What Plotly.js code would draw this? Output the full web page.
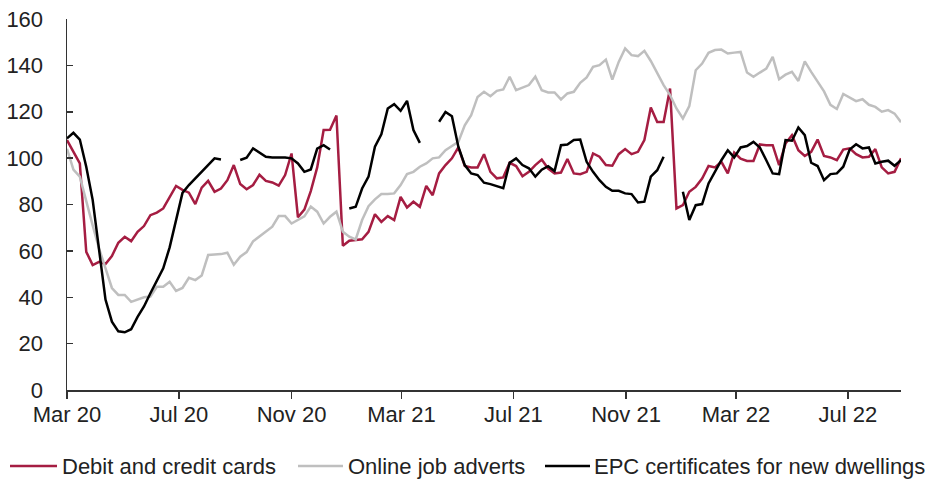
<!DOCTYPE html>
<html>
<head>
<meta charset="utf-8">
<script src="https://cdn.plot.ly/plotly-3.0.1.min.js"></script>
<style>
html,body{margin:0;padding:0;background:#fff;}
#chart{width:925px;height:482px;}
</style>
</head>
<body>
<div id="chart"></div>
<script>
// Weekly observations, first week starting 1 March 2020
const startDate = '2020-03-01';
const seriesNames = ['Debit and credit cards', 'Online job adverts', 'EPC certificates for new dwellings'];
const seriesColors = ['#a51d42', '#bfbfbf', '#000000'];

const cards = [107.8,102.7,97.7,59.6,53.9,55.3,54.3,57.8,63.5,66.1,64.2,68.2,70.7,75.4,76.5,78.3,83.4,88.0,86.3,85.1,
80.2,87.3,90.2,85.5,86.9,90.5,97.0,88.8,86.6,88.4,92.8,90.2,89.5,88.1,92.7,102.0,74.5,77.8,85.8,96.0,
112.1,112.2,118.4,62.2,64.4,64.7,65.0,68.2,75.8,72.5,75.0,73.3,83.3,78.7,81.2,79.0,88.0,84.0,93.4,97.0,
99.9,104.6,96.6,96.0,96.0,101.7,94.1,91.3,91.7,98.0,96.6,92.2,94.1,97.0,99.4,95.5,93.4,93.8,99.6,93.4,
93.1,94.1,102.0,100.6,97.0,96.7,101.7,103.9,101.7,102.7,107.8,121.8,115.6,115.6,130.0,78.3,79.7,85.5,87.6,91.2,
96.6,96.0,98.4,93.4,102.4,99.8,98.8,98.8,105.9,105.6,105.6,97.0,106.3,109.9,103.4,100.9,102.7,108.0,100.9,100.3,
99.1,103.7,104.2,101.7,100.3,100.6,103.9,96.0,93.4,94.1,99.9];

const jobAdverts = [104,95,92,81,71,61,53,44,41,41,38,39,40,40.3,44.5,44.5,46.7,42.7,44,48.4,
47.4,49.4,58.2,58.4,58.6,59.2,54,57.5,59.5,64.1,66.2,68,70.4,75,75,71.8,73.4,74.9,79.1,76.9,
71.8,74.7,76.9,68.2,66.1,64.9,73.3,79.3,82.2,84.5,84.5,84.8,88.4,93.1,94.1,96.3,97.7,99.9,100.3,103.4,
105.2,107.0,114.2,118.5,126.4,128.6,126.7,129.0,129.6,135.1,129.3,130.3,131.5,135.1,129.3,128.3,128.3,125.3,127.9,128.6,
132.5,134.8,139.4,140.1,142.5,133.9,141.5,147.3,144.4,144.0,146.3,141.9,136.9,131.5,127.2,121.4,117.1,122.4,137.9,140.8,
145.4,146.6,146.8,145.1,145.5,145.8,136.9,135.1,136.9,138.6,143.7,134,136,137.2,133.3,141.7,137.2,132.9,128.8,123,
121.2,127.7,126.2,124.6,125.4,123,122.1,120,120.7,119.2,115.5];

const epcNewDwellings = [108.5,110.9,108,96.3,82,60,39,29.5,25.3,24.9,26.2,31.5,36,41.7,46.9,52.5,61.5,73,85,88.4,
91.2,94.4,97.0,99.9,99.4,null,null,99.2,100.2,104.2,102.5,100.6,100.3,100.3,100.3,99.9,97.7,94.1,95.1,104.1,
105.6,103.7,null,null,78.3,79.0,86.9,92.0,104.9,110.3,121.4,123.3,120.4,124.7,112.1,106.6,null,null,115.7,119.9,
118.1,104.9,97.0,93.4,92.7,89.4,88.8,88.0,87.0,98.0,99.9,97.0,95.6,92.0,95,96.5,94.4,105.6,105.9,107.8,
108.0,98.4,94.1,90.5,87.6,85.9,85.9,84.8,84.5,80.9,81.2,92.0,94.8,100.6,null,null,85.5,73.3,79.7,80.2,
89.1,94.1,99.1,103.4,100.3,104.6,105.2,107.0,104.6,99.1,93.4,93.1,107.8,107.5,113.2,109.9,98.0,96.6,90.5,93.1,
93.4,96.3,103.7,106.0,104.2,104.6,97.7,98.4,98.9,96.7,99.1];

const yTicks = [0,20,40,60,80,100,120,140,160];

function weeklyDates(start, n) {
  const out = [];
  const d0 = new Date(start + 'T00:00:00Z');
  for (let i = 0; i < n; i++) {
    const d = new Date(d0.getTime() + i * 7 * 86400000);
    out.push(d.toISOString().slice(0, 10));
  }
  return out;
}
const dates = weeklyDates(startDate, cards.length);

const allSeries = [cards, jobAdverts, epcNewDwellings];
const traces = allSeries.map((vals, k) => ({
  type: 'scatter',
  mode: 'lines',
  x: dates,
  y: vals,
  name: seriesNames[k],
  connectgaps: false,
  showlegend: false,
  line: {color: seriesColors[k], width: 2.5},
  hoverinfo: 'x+y+name'
}));

// Plot geometry (pixels) used to place the custom legend
const W = 925, H = 482;
const M = {l: 67, r: 24, t: 19, b: 92};
const plotW = W - M.l - M.r, plotH = H - M.t - M.b;
const px2x = p => (p - M.l) / plotW;
const px2y = p => (H - M.b - p) / plotH;

// legend layout in pixels: line sample start/end, text start
const legendRowY = 466;
const legendItems = [
  {x0: 10, x1: 57, tx: 60},
  {x0: 298, x1: 343, tx: 346},
  {x0: 545, x1: 590, tx: 592}
];

const fontFam = '"Liberation Sans", Arial, Helvetica, sans-serif';
const shapes = legendItems.map((it, k) => ({
  type: 'line', xref: 'paper', yref: 'paper',
  x0: px2x(it.x0), x1: px2x(it.x1), y0: px2y(legendRowY), y1: px2y(legendRowY),
  line: {color: seriesColors[k], width: 2.5}
}));
const annotations = legendItems.map((it, k) => ({
  xref: 'paper', yref: 'paper',
  x: px2x(it.tx), y: px2y(legendRowY),
  xanchor: 'left', yanchor: 'middle',
  text: seriesNames[k], showarrow: false,
  font: {family: fontFam, size: 22, color: '#222222'}
}));

const layout = {
  width: W,
  height: H,
  margin: {l: M.l, r: M.r, t: M.t, b: M.b, autoexpand: false},
  paper_bgcolor: '#ffffff',
  plot_bgcolor: '#ffffff',
  font: {family: fontFam, size: 22, color: '#222222'},
  showlegend: false,
  shapes: shapes,
  annotations: annotations,
  xaxis: {
    type: 'date',
    range: [dates[0], dates[dates.length - 1]],
    tick0: '2020-03-01',
    dtick: 'M4',
    tickformat: '%b %y',
    ticks: 'outside',
    ticklen: 7,
    tickwidth: 1.5,
    tickcolor: '#333333',
    showline: true,
    linecolor: '#333333',
    linewidth: 1.5,
    showgrid: false,
    zeroline: false,
    ticklabelstandoff: -3,
    tickfont: {family: fontFam, size: 22, color: '#222222'}
  },
  yaxis: {
    range: [0, 160],
    tickvals: yTicks,
    ticks: 'inside',
    ticklen: 6,
    tickwidth: 1.5,
    tickcolor: '#333333',
    showline: true,
    linecolor: '#333333',
    linewidth: 1.5,
    showgrid: false,
    zeroline: false,
    ticklabelstandoff: 18,
    tickfont: {family: fontFam, size: 22, color: '#222222'}
  }
};

Plotly.newPlot('chart', traces, layout, {displayModeBar: false, staticPlot: true});
</script>
</body>
</html>
